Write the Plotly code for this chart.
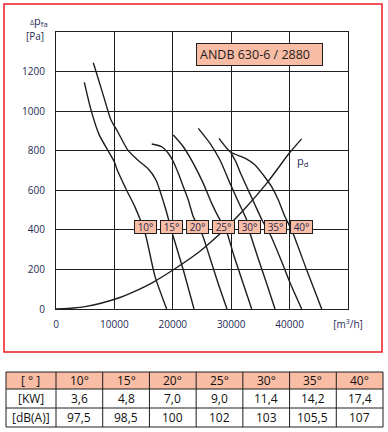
import plotly.graph_objects as go

# ---------------- data ----------------
angles = ["10°", "15°", "20°", "25°", "30°", "35°", "40°"]
power_kw = ["3,6", "4,8", "7,0", "9,0", "11,4", "14,2", "17,4"]
noise_dba = ["97,5", "98,5", "100", "102", "103", "105,5", "107"]

flow_10 = [4850, 6000, 7400, 9980, 10450, 12100, 13530, 15240, 16950, 18950]
press_10 = [1145, 1005, 880, 745, 705, 600, 515, 385, 165, 0]

flow_15 = [6390, 8000, 9420, 10570, 12280, 13990, 15700, 17120, 18660, 20090, 21800, 23630]
press_15 = [1245, 1090, 955, 896, 804, 753, 711, 652, 517, 365, 197, 0]

flow_20 = [16390, 18100, 19230, 20090, 20940, 21800, 22650, 23510, 24950, 26370, 27740, 29280]
press_20 = [834, 820, 787, 744, 686, 618, 551, 466, 384, 258, 131, 0]

flow_25 = [20090, 21800, 23510, 25220, 26660, 28080, 29110, 30480, 32020, 33510]
press_25 = [879, 820, 736, 635, 534, 450, 399, 268, 131, 0]

flow_30 = [24370, 26370, 28080, 29800, 31220, 32650, 33220, 34590, 36040, 37500]
press_30 = [913, 837, 753, 635, 542, 450, 384, 258, 131, 0]

flow_35 = [29970, 30820, 31510, 32650, 34080, 35270, 36640, 38530, 40240, 42070]
press_35 = [788, 743, 692, 618, 526, 450, 379, 248, 121, 0]

flow_40 = [27910, 29800, 32360, 34080, 35500, 36940, 38070, 39210, 40360, 42930, 45500]
press_40 = [862, 795, 762, 728, 677, 617, 551, 466, 399, 197, 0]

flow_pd = [0, 3000, 5000, 7530, 10960, 13180, 16610, 20030, 24650, 28080, 32010, 36070, 40060, 42060]
press_pd = [0, 5, 12, 28, 58, 85, 135, 197, 292, 380, 497, 635, 792, 860]

x_tick_vals = [0, 10000, 20000, 30000, 40000, 50000]
x_tick_text = ["0", "10000", "20000", "30000", "40000", "[m<sup>3</sup>/h]"]
y_tick_vals = [0, 200, 400, 600, 800, 1000, 1200]

curves = [(flow_10, press_10), (flow_15, press_15), (flow_20, press_20),
          (flow_25, press_25), (flow_30, press_30), (flow_35, press_35),
          (flow_40, press_40), (flow_pd, press_pd)]

# ---------------- layout helpers ----------------
W, H = 388, 432
SALMON = "#F9BCA4"
INK = "#1e1e1e"
TICK = "#262a55"


def fx(px):
    return px / W


def fy(py):
    return 1 - py / H


fig = go.Figure()
for xs, ys in curves:
    fig.add_trace(go.Scatter(x=xs, y=ys, mode="lines",
                             line=dict(color=INK, width=1.4, shape="spline", smoothing=0.6),
                             hoverinfo="skip", showlegend=False))

shapes = []
annotations = []

# red frame
shapes.append(dict(type="rect", xref="paper", yref="paper",
                   x0=fx(4), x1=fx(382), y0=fy(352), y1=fy(4),
                   line=dict(color="#EC1C24", width=1.5), layer="below"))

# title box
annotations.append(dict(xref="paper", yref="paper", x=fx(196), y=fy(54.5),
                        xanchor="left", yanchor="middle", text="ANDB 630-6 / 2880",
                        showarrow=False, align="left", width=119, height=15,
                        bgcolor=SALMON, bordercolor=INK, borderwidth=1, borderpad=3,
                        font=dict(family="Open Sans", size=12.5, color=INK)))

# angle labels
for i, a in enumerate(angles):
    annotations.append(dict(xref="x", yref="y", x=15400 + i * 4450, y=415,
                            xanchor="center", yanchor="middle",
                            text=a, showarrow=False, width=19, height=10,
                            bgcolor=SALMON, bordercolor=INK, borderwidth=1, borderpad=1,
                            font=dict(family="Open Sans", size=10, color=TICK)))

# pd label
annotations.append(dict(xref="paper", yref="paper", x=fx(303), y=fy(161),
                        xanchor="center", yanchor="middle",
                        text="p<sub>d</sub>", showarrow=False,
                        font=dict(family="Open Sans", size=11, color=TICK)))

# y axis title
annotations.append(dict(xref="paper", yref="paper", x=fx(39), y=fy(21),
                        xanchor="center", yanchor="middle",
                        text="<span style='font-size:7px'>Δ</span>p<sub>fa</sub>",
                        showarrow=False, font=dict(family="Open Sans", size=11, color=TICK)))
annotations.append(dict(xref="paper", yref="paper", x=fx(46), y=fy(36),
                        xanchor="right", yanchor="middle", text="[Pa]", showarrow=False,
                        font=dict(family="Open Sans", size=10, color=TICK)))

# ---------------- table ----------------
col_edges = [6, 56] + [56 + (383 - 56) * (i + 1) / 7 for i in range(7)]
row_edges = [372, 389, 408, 427]
rows = [["[ ° ]"] + angles, ["[KW]"] + power_kw, ["[dB(A)]"] + noise_dba]

shapes.append(dict(type="rect", xref="paper", yref="paper",
                   x0=fx(col_edges[0]), x1=fx(col_edges[-1]),
                   y0=fy(row_edges[1]), y1=fy(row_edges[0]),
                   fillcolor=SALMON, line=dict(width=0)))
for r in row_edges:
    shapes.append(dict(type="line", xref="paper", yref="paper",
                       x0=fx(col_edges[0]), x1=fx(col_edges[-1]), y0=fy(r), y1=fy(r),
                       line=dict(color=INK, width=1)))
for c in col_edges:
    shapes.append(dict(type="line", xref="paper", yref="paper",
                       x0=fx(c), x1=fx(c), y0=fy(row_edges[0]), y1=fy(row_edges[-1]),
                       line=dict(color=INK, width=1)))
for ri, row in enumerate(rows):
    yc = (row_edges[ri] + row_edges[ri + 1]) / 2
    for ci, txt in enumerate(row):
        xc = (col_edges[ci] + col_edges[ci + 1]) / 2
        annotations.append(dict(xref="paper", yref="paper", x=fx(xc), y=fy(yc),
                                xanchor="center", yanchor="middle",
                                text=txt, showarrow=False,
                                font=dict(family="Open Sans", size=12, color="#111111")))

axis_common = dict(showgrid=True, gridcolor=INK, gridwidth=1.2,
                   showline=True, linecolor=INK, linewidth=1.2, mirror=True,
                   zeroline=False, ticks="", fixedrange=True, automargin=False,
                   tickfont=dict(family="Open Sans", size=10, color=TICK))

fig.update_layout(
    width=W, height=H, autosize=False,
    margin=dict(l=0, r=0, t=0, b=0, pad=0, autoexpand=False),
    paper_bgcolor="white", plot_bgcolor="white",
    xaxis=dict(domain=[fx(56), fx(348)], range=[0, 50000],
               tickvals=x_tick_vals, ticktext=x_tick_text, ticklabelstandoff=6,
               **axis_common),
    yaxis=dict(domain=[fy(309), fy(32)], range=[0, 1400],
               tickvals=y_tick_vals, ticklabelstandoff=8,
               **axis_common),
    shapes=shapes, annotations=annotations,
    showlegend=False,
)

fig.write_html("out.html", config={"displayModeBar": False},
               post_script="document.body.style.margin='0';document.body.style.overflow='hidden';")
